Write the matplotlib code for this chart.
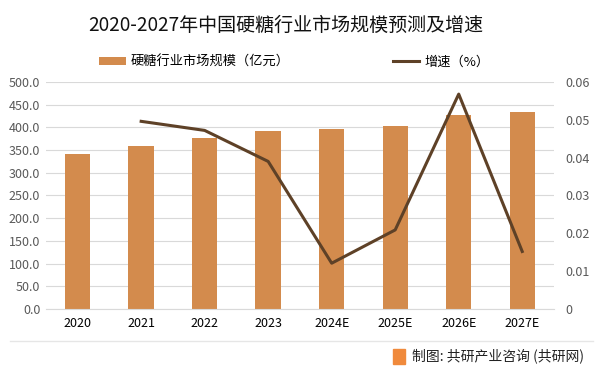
import matplotlib
matplotlib.use('Agg')
import matplotlib.pyplot as plt
import numpy as np

plt.rcParams['font.family'] = ['Noto Sans CJK SC', 'DejaVu Sans']

# data
years = ['2020', '2021', '2022', '2023', '2024E', '2025E', '2026E', '2027E']
market_size = [342, 359, 377, 392, 396, 403, 427, 434]
growth_years = ['2021', '2022', '2023', '2024E', '2025E', '2026E', '2027E']
growth = [0.0496, 0.0472, 0.0390, 0.0121, 0.0209, 0.0568, 0.0152]

bar_color = '#D38B4D'
line_color = '#5E4127'
grid_color = '#D9D9D9'
tick_color = '#595959'

fig = plt.figure(figsize=(5.96, 3.72), dpi=100)
ax = fig.add_axes([0.077, 0.1694, 0.8525, 0.6102])
ax2 = ax.twinx()

x = np.arange(len(years))
bars = ax.bar(x, market_size, width=0.4, color=bar_color, zorder=2,
              label='硬糖行业市场规模（亿元）')
gx = [years.index(y) for y in growth_years]
line, = ax2.plot(gx, growth, color=line_color, linewidth=2.2,
                 label='增速（%）', zorder=3)

ax.set_xlim(-0.5, len(years) - 0.5)
ax.set_ylim(0, 500)
ax.set_yticks(np.arange(0, 501, 50))
ax.set_yticklabels([f'{v:.1f}' for v in np.arange(0, 501, 50)])
ax2.set_ylim(0, 0.06)
ax2.set_yticks(np.arange(0, 0.061, 0.01))
ax2.set_yticklabels(['0', '0.01', '0.02', '0.03', '0.04', '0.05', '0.06'])

ax.set_xticks(x)
ax.set_xticklabels(years)
ax.grid(axis='y', color=grid_color, linewidth=0.8, zorder=0)
ax.set_axisbelow(True)

for a in (ax, ax2):
    for s in a.spines.values():
        s.set_visible(False)
ax.spines['bottom'].set_visible(True)
ax.spines['bottom'].set_color(grid_color)
ax.tick_params(axis='both', length=0)
ax2.tick_params(axis='both', length=0)
ax.tick_params(axis='y', colors=tick_color, labelsize=9, pad=4)
ax2.tick_params(axis='y', colors=tick_color, labelsize=9, pad=8)
ax.tick_params(axis='x', colors='#000000', labelsize=9, pad=6)

fig.text(0.48, 0.932, '2020-2027年中国硬糖行业市场规模预测及增速',
         ha='center', va='center', fontsize=13.7, color='#111111')

fig.legend(handles=[bars, line], loc='center', bbox_to_anchor=(0.494, 0.833),
           ncol=2, frameon=False, fontsize=9.5, columnspacing=7.8,
           handlelength=2.0, handleheight=0.5, handletextpad=0.4)

# footer
fig.add_artist(plt.Line2D([0.017, 0.995], [0.083, 0.083], color='#E6E6E6',
                          linewidth=1, transform=fig.transFigure))
fig.text(0.98, 0.043, '制图: 共研产业咨询 (共研网)', ha='right', va='center',
         fontsize=10, color='#222222')
fig.patches.append(plt.Rectangle((0.659, 0.022), 0.02, 0.04, color='#F08A3C',
                                 transform=fig.transFigure, figure=fig))

fig.savefig('out.png', dpi=100)
